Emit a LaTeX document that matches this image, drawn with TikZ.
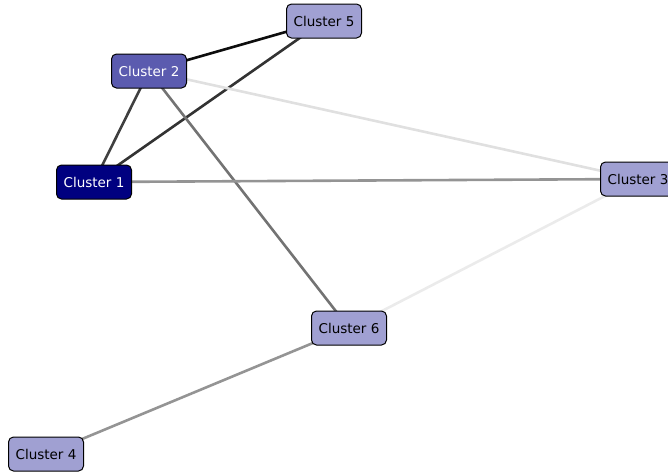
\documentclass[tikz,border=0pt]{standalone}
\usepackage{fontspec}
\setmainfont{DejaVu Sans}
\usepackage{tikz}
\usetikzlibrary{backgrounds}

\definecolor{navyc}{HTML}{000080}
\definecolor{midc}{HTML}{5B5BAF}
\definecolor{lightc}{HTML}{A0A0D2}

\begin{document}
\begin{tikzpicture}[x=1pt, y=-1pt,
	cluster/.style={draw=black, line width=1pt, rounded corners=5pt, minimum width=75pt, minimum height=34pt, inner sep=0pt, font=\fontsize{13.5}{15}\selectfont},
	link/.style={line width=2.6pt}]
	\useasboundingbox (0,0) rectangle (668,472);
	
	\node[cluster, fill=navyc, text=white] (c1) at (94,182) {Cluster 1};
	\node[cluster, fill=midc, text=white] (c2) at (149,71) {Cluster 2};
	\node[cluster, fill=lightc] (c3) at (638,179) {Cluster 3};
	\node[cluster, fill=lightc] (c4) at (46,454) {Cluster 4};
	\node[cluster, fill=lightc] (c5) at (324,21) {Cluster 5};
	\node[cluster, fill=lightc] (c6) at (349,328) {Cluster 6};
	
	% links behind the boxes
	\begin{scope}[on background layer]
	\draw[link, black!95] (c2.center) -- (c5.center);
	\draw[link, black!80] (c1.center) -- (c5.center);
	\draw[link, black!75] (c1.center) -- (c2.center);
	\draw[link, black!55] (c2.center) -- (c6.center);
	\draw[link, black!42] (c1.center) -- (c3.center);
	\draw[link, black!42] (c6.center) -- (c4.center);
	\draw[link, black!12] (c2.center) -- (c3.center);
	\draw[link, black!8] (c6.center) -- (c3.center);
	\end{scope}
\end{tikzpicture}
\end{document}
